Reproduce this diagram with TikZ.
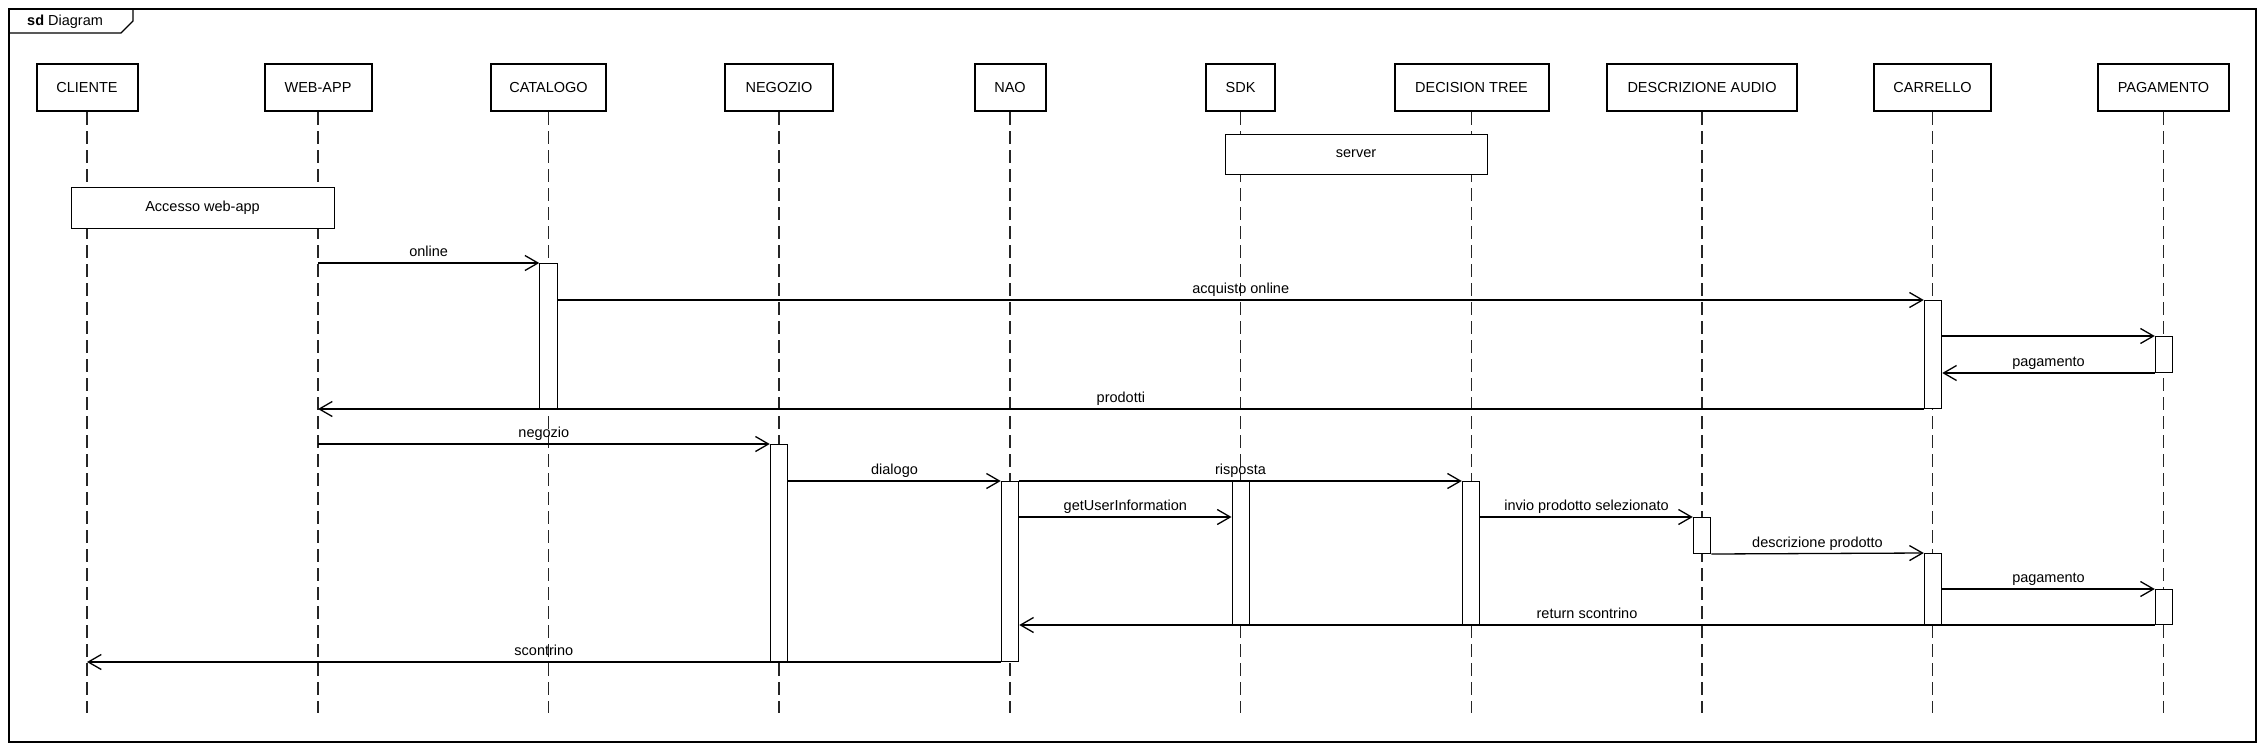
\documentclass[tikz,border=0pt]{standalone}
\usepackage{fontspec}
\setmainfont{Liberation Sans}
\usetikzlibrary{arrows.meta}
\begin{document}
\begin{tikzpicture}[x=1pt,y=-1pt,
  every node/.style={font=\fontsize{14.5}{17}\selectfont, text=black},
  part/.style={draw=black, line width=2pt, fill=white, minimum height=47pt, inner sep=0pt},
  life/.style={draw=black!85, line width=1.5pt, dash pattern=on 13pt off 6pt},
  act/.style={draw=black, line width=1pt, fill=white, minimum width=17.5pt, inner sep=0pt, anchor=north},
  frag/.style={draw=black, line width=1pt, fill=white, inner sep=0pt},
  msg/.style={draw=black, line width=1.3pt, -{Straight Barb[length=13pt,width=15pt]}},
  lbl/.style={midway, anchor=base, yshift=6.5pt, inner sep=0pt}]
\useasboundingbox (0,0) rectangle (2266,750);
% frame
\draw[line width=1.5pt] (9,9) rectangle (2256,742);
\draw[line width=1.3pt] (9,33) -- (121,33) -- (133,21) -- (133,9);
\node[anchor=west, inner sep=0pt] (title) at (27,21.5) {\textbf{sd} Diagram};
% participants
\node[part, minimum width=101pt] (cliente) at (87,87.5) {CLIENTE};
\node[part, minimum width=107pt] (webapp) at (318,87.5) {WEB-APP};
\node[part, minimum width=115pt] (catalogo) at (548.5,87.5) {CATALOGO};
\node[part, minimum width=108pt] (negozio) at (779,87.5) {NEGOZIO};
\node[part, minimum width=71pt] (nao) at (1010,87.5) {NAO};
\node[part, minimum width=69pt] (sdk) at (1240.5,87.5) {SDK};
\node[part, minimum width=154pt] (dt) at (1471.5,87.5) {DECISION TREE};
\node[part, minimum width=190pt] (da) at (1702,87.5) {DESCRIZIONE AUDIO};
\node[part, minimum width=117pt] (carrello) at (1932.5,87.5) {CARRELLO};
\node[part, minimum width=131pt] (pagamento) at (2163.5,87.5) {PAGAMENTO};
% lifelines
\foreach \n in {cliente,webapp,catalogo,negozio,nao,sdk,dt,da,carrello,pagamento}{
  \coordinate (\n-end) at ([yshift=-601pt]\n.south);
  \draw[life] (\n.south) -- (\n-end);
}
% fragments
\node[frag, minimum width=263pt, minimum height=41pt] (accesso) at (202.5,207.5) {Accesso web-app};
\node[frag, minimum width=262pt, minimum height=40pt] (server) at (1356,154) {server};
% activations
\node[act, minimum height=145pt] (aCat) at (548.5,263) {};
\node[act, minimum height=108pt] (aCar1) at (1933,300) {};
\node[act, minimum height=36pt] (aPag1) at (2164,336) {};
\node[act, minimum height=217pt] (aNeg) at (779,444) {};
\node[act, minimum height=180pt] (aNao) at (1010,481) {};
\node[act, minimum height=143pt] (aSdk) at (1240.75,481) {};
\node[act, minimum height=143pt] (aDt) at (1471,481) {};
\node[act, minimum height=36pt] (aDa) at (1702,517) {};
\node[act, minimum height=71pt] (aCar2) at (1933,553) {};
\node[act, minimum height=35pt] (aPag2) at (2164,589) {};
% messages
\draw[msg] (webapp |- aCat.north) -- (aCat.north west) node[lbl]{online};
\draw[msg] (aCat.east |- aCar1.north) -- (aCar1.north west) node[lbl]{acquisto online};
\draw[msg] (aCar1.east |- aPag1.north) -- (aPag1.north west);
\draw[msg] (aPag1.south west) -- (aCar1.east |- aPag1.south) node[lbl]{pagamento};
\draw[msg] (aCar1.south west) -- (webapp |- aCar1.south) node[lbl]{prodotti};
\draw[msg] (webapp |- aNeg.north) -- (aNeg.north west) node[lbl]{negozio};
\draw[msg] (aNeg.east |- aNao.north) -- (aNao.north west) node[lbl]{dialogo};
\draw[msg] (aNao.north east) -- (aDt.north west) node[lbl]{risposta};
\draw[msg] (aNao.east |- aDa.north) -- (aSdk.west |- aDa.north) node[lbl]{getUserInformation};
\draw[msg] (aDt.east |- aDa.north) -- (aDa.north west) node[lbl]{invio prodotto selezionato};
\draw[msg] (aDa.south east) -- (aCar2.north west) node[lbl]{descrizione prodotto};
\draw[msg] (aCar2.east |- aPag2.north) -- (aPag2.north west) node[lbl]{pagamento};
\draw[msg] (aPag2.south west) -- (aNao.east |- aPag2.south) node[lbl]{return scontrino};
\draw[msg] (aNao.south west) -- (cliente |- aNao.south) node[lbl]{scontrino};
\end{tikzpicture}
\end{document}
